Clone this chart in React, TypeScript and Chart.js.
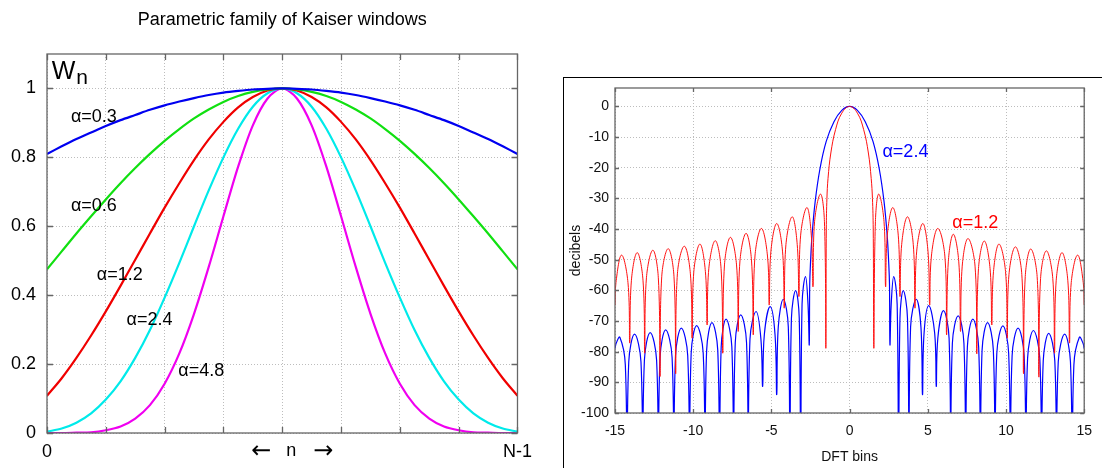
import React, { useEffect, useRef } from 'react';
import { Chart, registerables } from 'chart.js';

Chart.register(...registerables);

const FONT = "'Liberation Sans', Arial, sans-serif";
const ARROW_FONT = "'DejaVu Sans', sans-serif";
Chart.defaults.font.family = FONT;

// ---------------- Left chart: Kaiser windows ----------------
const windowTitle = 'Parametric family of Kaiser windows';
const sampleIndex = [0, 2, 4, 6, 8, 10, 12, 14, 16, 18, 20, 22, 24, 26, 28, 30, 32, 34, 36, 38, 40, 42, 44, 46, 48, 50, 52, 54, 56, 58, 60, 62, 64];
const windowAlpha03 = [0.810, 0.832, 0.853, 0.872, 0.891, 0.908, 0.923, 0.938, 0.951, 0.962, 0.972, 0.981, 0.988, 0.993, 0.997, 0.999, 1.000, 0.999, 0.997, 0.993, 0.988, 0.981, 0.972, 0.962, 0.951, 0.938, 0.923, 0.908, 0.891, 0.872, 0.853, 0.832, 0.810];
const windowAlpha06 = [0.475, 0.527, 0.579, 0.629, 0.678, 0.725, 0.769, 0.810, 0.848, 0.882, 0.913, 0.939, 0.961, 0.978, 0.990, 0.997, 1.000, 0.997, 0.990, 0.978, 0.961, 0.939, 0.913, 0.882, 0.848, 0.810, 0.769, 0.725, 0.678, 0.629, 0.579, 0.527, 0.475];
const windowAlpha12 = [0.108, 0.159, 0.218, 0.283, 0.353, 0.427, 0.503, 0.579, 0.654, 0.725, 0.792, 0.852, 0.903, 0.945, 0.975, 0.994, 1.000, 0.994, 0.975, 0.945, 0.903, 0.852, 0.792, 0.725, 0.654, 0.579, 0.503, 0.427, 0.353, 0.283, 0.218, 0.159, 0.108];
const windowAlpha24 = [0.004, 0.013, 0.030, 0.057, 0.097, 0.150, 0.218, 0.299, 0.393, 0.494, 0.600, 0.704, 0.800, 0.883, 0.947, 0.986, 1.000, 0.986, 0.947, 0.883, 0.800, 0.704, 0.600, 0.494, 0.393, 0.299, 0.218, 0.150, 0.097, 0.057, 0.030, 0.013, 0.004];
const windowAlpha48 = [0.000, 0.000, 0.001, 0.002, 0.008, 0.019, 0.042, 0.081, 0.143, 0.231, 0.346, 0.482, 0.629, 0.773, 0.893, 0.971, 1.000, 0.971, 0.893, 0.773, 0.629, 0.482, 0.346, 0.231, 0.143, 0.081, 0.042, 0.019, 0.008, 0.002, 0.001, 0.000, 0.000];
const windowSeriesNames = ['α=0.3', 'α=0.6', 'α=1.2', 'α=2.4', 'α=4.8'];
const windowXTickValues = [0, 64];
const windowXTickTexts = ['0', 'N-1'];
const windowXAxisName = ['←', 'n', '→'];

// ---------------- Right chart: DFT of Kaiser windows (dB) ----------------
const dftAlpha12Left: number[][] = [
  [-15, -64.8], [-14.94, -57.5], [-14.58, -48.5], [-14.17, -57.5], [-14.06, -77.2],
  [-13.95, -56.7], [-13.58, -47.7], [-13.21, -56.7], [-13.1, -80.5],
  [-12.99, -55.9], [-12.58, -46.9], [-12.23, -55.9], [-12.12, -88.1],
  [-12.01, -55.4], [-11.6, -46.4], [-11.23, -55.4], [-11.12, -87.2],
  [-11.01, -54.6], [-10.57, -45.6], [-10.18, -54.6], [-10.07, -75.6],
  [-9.96, -53.9], [-9.57, -44.9], [-9.22, -53.9], [-9.11, -71.3],
  [-9.0, -52.8], [-8.59, -43.8], [-8.22, -52.8], [-8.11, -80.5],
  [-8.0, -51.7], [-7.62, -42.7], [-7.23, -51.7], [-7.12, -73.4],
  [-7.01, -50.4], [-6.62, -41.4], [-6.27, -50.4], [-6.16, -74.5],
  [-6.05, -48.8], [-5.64, -39.8], [-5.25, -48.8], [-5.14, -64.8],
  [-5.03, -47.2], [-4.66, -38.2], [-4.29, -47.2], [-4.18, -65.8],
  [-4.07, -45], [-3.67, -36], [-3.35, -45], [-3.24, -62],
  [-3.13, -42], [-2.73, -33], [-2.45, -42], [-2.34, -58.8],
  [-2.24, -37.6], [-1.86, -28.6], [-1.61, -37.6],
];
const dftAlpha12Main: number[][] = [
  [-1.52, -78.9], [-1.49, -40], [-1.45, -30], [-1.38, -23.5], [-1.2, -15.2], [-0.9, -7.6], [-0.5, -2.2],
  [0, 0], [0.5, -2.2], [0.9, -7.6], [1.2, -15.2], [1.38, -23.5], [1.46, -30], [1.51, -40], [1.55, -78.9],
];
const dftAlpha12Right: number[][] = [
  [1.65, -37.6], [1.86, -28.6], [2.2, -37.6], [2.3, -58.8],
  [2.41, -42], [2.76, -33], [3.11, -42], [3.22, -62],
  [3.33, -45], [3.7, -36], [4.07, -45], [4.18, -65.8],
  [4.29, -47.2], [4.68, -38.2], [5.01, -47.2], [5.12, -64.8],
  [5.23, -48.8], [5.64, -39.8], [6.09, -48.8], [6.2, -74.5],
  [6.31, -50.7], [6.63, -41.7], [6.98, -50.7], [7.09, -73.4],
  [7.2, -52.1], [7.57, -43.1], [8.02, -52.1], [8.13, -80.7],
  [8.24, -52.9], [8.61, -43.9], [8.98, -52.9], [9.09, -71.3],
  [9.2, -53.9], [9.55, -44.9], [9.97, -53.9], [10.08, -75.6],
  [10.19, -54.8], [10.6, -45.8], [11.01, -54.8], [11.12, -87.2],
  [11.23, -55.5], [11.58, -46.5], [11.99, -55.5], [12.1, -88.3],
  [12.21, -56.1], [12.58, -47.1], [12.99, -56.1], [13.1, -80.5],
  [13.21, -56.7], [13.58, -47.7], [13.95, -56.7], [14.06, -77.2],
  [14.17, -57.5], [14.58, -48.5], [14.94, -57.5], [15, -64.8],
];
const dftAlpha24Left: number[][] = [
  [-15, -79], [-14.92, -77.2], [-14.69, -75.3], [-14.34, -84.3], [-14.23, -130],
  [-14.12, -83.3], [-13.75, -74.3], [-13.34, -83.3], [-13.23, -130],
  [-13.12, -82.8], [-12.75, -73.8], [-12.34, -82.8], [-12.23, -130],
  [-12.12, -81.9], [-11.76, -72.9], [-11.35, -81.9], [-11.24, -130],
  [-11.13, -81.3], [-10.76, -72.3], [-10.35, -81.3], [-10.24, -130],
  [-10.13, -80.5], [-9.78, -71.5], [-9.36, -80.5], [-9.25, -130],
  [-9.14, -79.5], [-8.8, -70.5], [-8.43, -79.5], [-8.32, -130],
  [-8.21, -78.4], [-7.9, -69.4], [-7.53, -78.4], [-7.42, -130],
  [-7.31, -77], [-6.96, -68], [-6.59, -77], [-6.48, -130],
  [-6.37, -75.9], [-5.98, -66.9], [-5.67, -75.9], [-5.56, -91.3],
  [-5.45, -74.3], [-5.08, -65.3], [-4.77, -74.3], [-4.66, -94],
  [-4.56, -71.9], [-4.24, -62.9], [-3.92, -71.9], [-3.82, -130],
  [-3.72, -69.1], [-3.45, -60.1], [-3.22, -69.1], [-3.13, -130],
  [-3.04, -64.5], [-2.82, -55.5], [-2.66, -64.5],
];
const dftAlpha24Main: number[][] = [
  [-2.58, -77.8], [-2.55, -58], [-2.5, -51], [-2.4, -42], [-2.2, -31], [-1.9, -20.5], [-1.5, -11.5], [-1, -5], [-0.5, -1.3],
  [0, 0], [0.5, -1.3], [1, -5], [1.5, -11.5], [1.9, -20.5], [2.2, -31], [2.4, -42], [2.5, -51], [2.55, -58], [2.58, -77.8],
];
const dftAlpha24Right: number[][] = [
  [2.66, -64.5], [2.82, -55.5], [3.04, -64.5], [3.13, -130],
  [3.22, -69.1], [3.43, -60.1], [3.7, -69.1], [3.8, -130],
  [3.9, -71.9], [4.26, -62.9], [4.56, -71.9], [4.66, -94],
  [4.76, -74], [5.06, -65], [5.44, -74], [5.54, -91.3],
  [5.64, -75.6], [6.0, -66.6], [6.36, -75.6], [6.46, -130],
  [6.57, -77.3], [6.94, -68.3], [7.31, -77.3], [7.42, -130],
  [7.53, -78.4], [7.88, -69.4], [8.25, -78.4], [8.36, -130],
  [8.47, -79.5], [8.82, -70.5], [9.19, -79.5], [9.3, -130],
  [9.41, -80.6], [9.8, -71.6], [10.17, -80.6], [10.28, -130],
  [10.39, -81.3], [10.77, -72.3], [11.16, -81.3], [11.27, -130],
  [11.38, -82.1], [11.75, -73.1], [12.16, -82.1], [12.27, -130],
  [12.38, -83], [12.73, -74], [13.12, -83], [13.23, -130],
  [13.34, -83.3], [13.75, -74.3], [14.12, -83.3], [14.23, -130],
  [14.34, -84.3], [14.69, -75.3], [14.92, -77.2], [15, -79],
];
const dftSeriesNames = ['α=1.2', 'α=2.4'];
const dftXLabel = 'DFT bins';
const dftYLabel = 'decibels';

// ---------------- helpers / plugins ----------------
const zip = (xs: number[], ys: number[]) => xs.map((x, i) => ({ x, y: ys[i] }));
const fromPairs = (...parts: number[][][]) => parts.flat().map(([x, y]) => ({ x, y }));

const framePlugin = {
  id: 'frame',
  afterDraw(chart: any, _args: any, opts: any) {
    const { ctx, chartArea: a } = chart;
    const xs = chart.scales.x;
    const ys = chart.scales.y;
    ctx.save();
    ctx.strokeStyle = opts.color;
    ctx.lineWidth = opts.width;
    ctx.setLineDash([]);
    ctx.beginPath();
    const L = opts.tick;
    xs.ticks.forEach((t: any) => {
      const p = Math.round(xs.getPixelForValue(t.value)) + 0.5;
      ctx.moveTo(p, a.bottom); ctx.lineTo(p, a.bottom - L);
      ctx.moveTo(p, a.top); ctx.lineTo(p, a.top + L);
    });
    ys.ticks.forEach((t: any) => {
      const p = Math.round(ys.getPixelForValue(t.value)) + 0.5;
      ctx.moveTo(a.left, p); ctx.lineTo(a.left + L, p);
      ctx.moveTo(a.right, p); ctx.lineTo(a.right - L, p);
    });
    ctx.stroke();
    ctx.strokeRect(a.left, a.top, a.right - a.left, a.bottom - a.top);
    ctx.restore();
  },
};

const textPlugin = {
  id: 'texts',
  afterDraw(chart: any, _args: any, opts: any) {
    const { ctx, chartArea: a } = chart;
    const xs = chart.scales.x;
    const ys = chart.scales.y;
    ctx.save();
    for (const l of opts.items || []) {
      ctx.font = `${l.size}px ${l.family || FONT}`;
      ctx.fillStyle = l.color;
      ctx.textAlign = l.align || 'left';
      ctx.textBaseline = 'middle';
      let px: number, py: number;
      if (l.mode === 'area') {
        px = a.left + (a.right - a.left) * l.fx + l.dx;
        py = l.fy === 'top' ? a.top + l.dy : l.fy === 'bottom' ? a.bottom + l.dy : a.top + (a.bottom - a.top) * l.fy + l.dy;
      } else {
        px = xs.getPixelForValue(l.x);
        py = ys.getPixelForValue(l.y);
      }
      if (l.rotate) {
        ctx.translate(px, py);
        ctx.rotate(l.rotate);
        ctx.fillText(l.text, 0, 0);
        ctx.setTransform(1, 0, 0, 1, 0, 0);
      } else {
        ctx.fillText(l.text, px, py);
      }
      if (l.sub) {
        const w = ctx.measureText(l.text).width;
        ctx.font = `${l.subSize}px ${FONT}`;
        ctx.fillText(l.sub, px + w + 1, py + l.subShift);
      }
    }
    ctx.restore();
  },
};

function KaiserWindowsChart() {
  const ref = useRef<HTMLCanvasElement>(null);
  useEffect(() => {
    const colors = ['#0000f0', '#11e011', '#f00000', '#00eaea', '#f000f0'];
    const series = [windowAlpha03, windowAlpha06, windowAlpha12, windowAlpha24, windowAlpha48];
    const chart = new Chart(ref.current!, {
      type: 'line',
      data: {
        datasets: series.map((s, i) => ({
          label: windowSeriesNames[i],
          data: zip(sampleIndex, s),
          borderColor: colors[i],
          borderWidth: 2.2,
          pointRadius: 0,
          tension: 0.3,
          fill: false,
        })),
      },
      plugins: [framePlugin, textPlugin],
      options: {
        responsive: false,
        animation: false,
        events: [],
        layout: { padding: { left: 0, right: 20, top: 54, bottom: 0 } },
        plugins: {
          legend: { display: false },
          tooltip: { enabled: false },
          frame: { color: '#666', width: 1.3, tick: 6 },
          texts: {
            items: [
              { mode: 'area', text: windowTitle, fx: 0.5, fy: 'top', dx: 0, dy: -34, size: 18, color: '#000', align: 'center' },
              { mode: 'area', text: windowXAxisName[0], fx: 0.5, fy: 'bottom', dx: -21, dy: 19, size: 24, family: ARROW_FONT, color: '#000', align: 'center' },
              { mode: 'area', text: windowXAxisName[1], fx: 0.5, fy: 'bottom', dx: 9, dy: 18, size: 18, color: '#000', align: 'center' },
              { mode: 'area', text: windowXAxisName[2], fx: 0.5, fy: 'bottom', dx: 41, dy: 19, size: 24, family: ARROW_FONT, color: '#000', align: 'center' },
              { text: 'W', x: 0.65, y: 1.047, size: 25, color: '#000', sub: 'n', subSize: 21, subShift: 6 },
              { text: windowSeriesNames[0], x: 3.25, y: 0.917, size: 18, color: '#000' },
              { text: windowSeriesNames[1], x: 3.25, y: 0.659, size: 18, color: '#000' },
              { text: windowSeriesNames[2], x: 6.77, y: 0.459, size: 18, color: '#000' },
              { text: windowSeriesNames[3], x: 10.83, y: 0.327, size: 18, color: '#000' },
              { text: windowSeriesNames[4], x: 17.86, y: 0.179, size: 18, color: '#000' },
            ],
          },
        } as any,
        scales: {
          x: {
            type: 'linear',
            min: 0,
            max: 64,
            afterFit: (s: any) => { s.height = 35; },
            ticks: {
              stepSize: 8,
              autoSkip: false,
              maxRotation: 0,
              padding: 8,
              color: '#000',
              font: { size: 18 },
              callback: (v: any) => {
                const k = windowXTickValues.indexOf(Number(v));
                return k >= 0 ? windowXTickTexts[k] : '';
              },
            },
            grid: { color: '#bdbdbd', drawTicks: false, lineWidth: 1 },
            border: { display: false, dash: [1, 2] },
          },
          y: {
            type: 'linear',
            min: 0,
            max: 1.1,
            afterFit: (s: any) => { s.width = 47; },
            ticks: {
              stepSize: 0.2,
              includeBounds: false,
              padding: 11,
              color: '#000',
              font: { size: 18 },
              callback: (v: any) => String(Number(Number(v).toFixed(2))),
            },
            grid: { color: '#bdbdbd', drawTicks: false, lineWidth: 1 },
            border: { display: false, dash: [1, 2] },
          },
        },
      } as any,
    });
    return () => chart.destroy();
  }, []);
  return <canvas ref={ref} width={540} height={468} style={{ position: 'absolute', left: 0, top: 0, width: 540, height: 468 }} />;
}

function KaiserSpectrumChart() {
  const ref = useRef<HTMLCanvasElement>(null);
  useEffect(() => {
    const chart = new Chart(ref.current!, {
      type: 'line',
      data: {
        datasets: [
          {
            label: dftSeriesNames[0],
            data: fromPairs(dftAlpha12Left, dftAlpha12Main, dftAlpha12Right),
            borderColor: '#ff1010',
            borderWidth: 1,
            pointRadius: 0,
            tension: 0.4,
            fill: false,
          },
          {
            label: dftSeriesNames[1],
            data: fromPairs(dftAlpha24Left, dftAlpha24Main, dftAlpha24Right),
            borderColor: '#0000ff',
            borderWidth: 1.2,
            pointRadius: 0,
            tension: 0.4,
            fill: false,
          },
        ],
      },
      plugins: [framePlugin, textPlugin],
      options: {
        responsive: false,
        animation: false,
        events: [],
        layout: { padding: { left: 0, right: 8, top: 88, bottom: 0 } },
        plugins: {
          legend: { display: false },
          tooltip: { enabled: false },
          frame: { color: '#666', width: 1.3, tick: 4 },
          texts: {
            items: [
              { text: dftSeriesNames[1], x: 2.1, y: -15, size: 18, color: '#0000ff' },
              { text: dftSeriesNames[0], x: 6.57, y: -38.2, size: 18, color: '#ff0000' },
              { mode: 'area', text: dftXLabel, fx: 0.5, fy: 'bottom', dx: 0, dy: 44, size: 14, color: '#111', align: 'center' },
              { mode: 'area', text: dftYLabel, fx: 0, fy: 0.5, dx: -39, dy: 0, size: 14, color: '#111', align: 'center', rotate: -Math.PI / 2 },
            ],
          },
        } as any,
        scales: {
          x: {
            type: 'linear',
            min: -15,
            max: 15,
            afterFit: (s: any) => { s.height = 55; },
            ticks: { stepSize: 5, autoSkip: false, maxRotation: 0, padding: 10, color: '#111', font: { size: 14 } },
            grid: { color: '#bdbdbd', drawTicks: false, lineWidth: 1 },
            border: { display: false, dash: [1, 2] },
          },
          y: {
            type: 'linear',
            min: -100,
            max: 6,
            afterFit: (s: any) => { s.width = 75; },
            ticks: { stepSize: 10, includeBounds: false, padding: 6, color: '#111', font: { size: 14 } },
            grid: { color: '#bdbdbd', drawTicks: false, lineWidth: 1 },
            border: { display: false, dash: [1, 2] },
          },
        },
      } as any,
    });
    return () => chart.destroy();
  }, []);
  return <canvas ref={ref} width={562} height={468} style={{ position: 'absolute', left: 540, top: 0, width: 562, height: 468 }} />;
}

export default function App() {
  return (
    <div style={{ position: 'fixed', left: 0, top: 0, width: 1102, height: 468, background: '#fff', overflow: 'hidden' }}>
      <div style={{ position: 'absolute', left: 563, top: 77, width: 600, height: 500, borderLeft: '1px solid #000', borderTop: '1px solid #000' }} />
      <KaiserWindowsChart />
      <KaiserSpectrumChart />
    </div>
  );
}
